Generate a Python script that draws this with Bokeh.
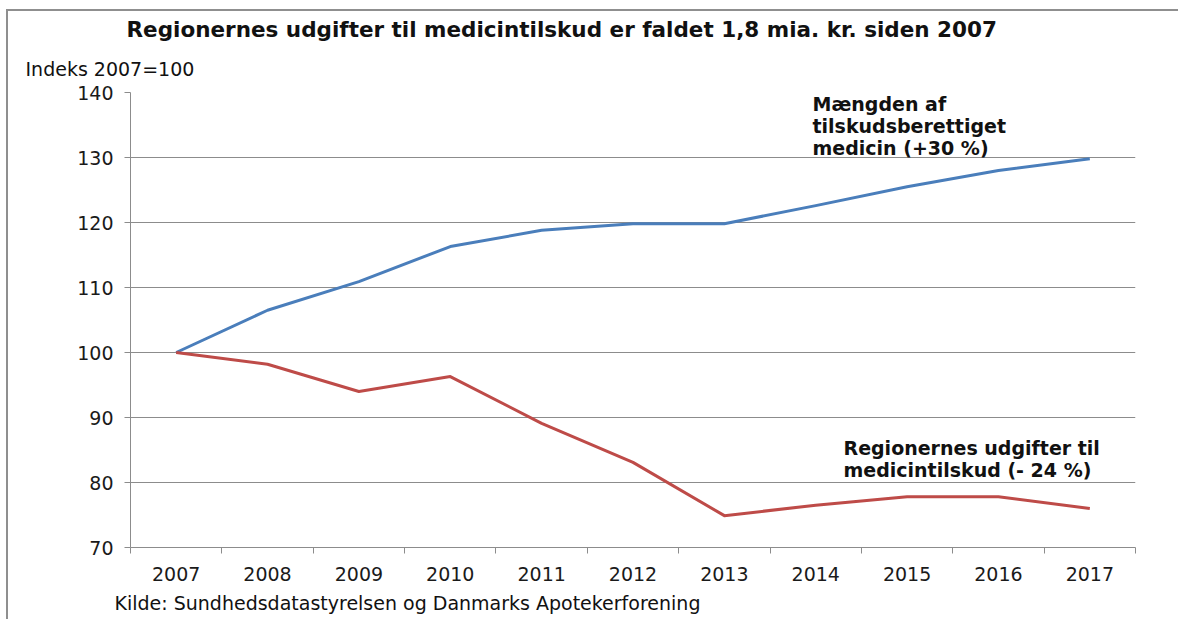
from bokeh.plotting import figure
from bokeh.models import Range1d, FixedTicker, Label, ColumnDataSource, Title
from bokeh.embed import file_html
from bokeh.resources import INLINE

# ---- data ----
years = ["2007", "2008", "2009", "2010", "2011", "2012", "2013", "2014", "2015", "2016", "2017"]
maengde = [100, 106.5, 110.9, 116.3, 118.8, 119.8, 119.8, 122.6, 125.5, 128.0, 129.8]
udgifter = [100, 98.2, 94.0, 96.3, 89.1, 83.1, 74.9, 76.5, 77.8, 77.8, 76.0]
y_ticks = [70, 80, 90, 100, 110, 120, 130, 140]

title_text = "Regionernes udgifter til medicintilskud er faldet 1,8 mia. kr. siden 2007"
y_label_text = "Indeks 2007=100"
source_text = "Kilde:  Sundhedsdatastyrelsen og Danmarks Apotekerforening"
blue_label = ["Mængden af", "tilskudsberettiget", "medicin (+30 %)"]
red_label = ["Regionernes udgifter til", "medicintilskud (- 24 %)"]

FONT = "DejaVu Sans"
GRAY = "#8c8c8c"
BLUE = "#4a7ebb"
RED = "#be4b48"

# category centres on a numeric axis (so tick marks can sit between categories)
xpos = [i + 0.5 for i in range(len(years))]
src = ColumnDataSource(dict(x=xpos, year=years, m=maengde, u=udgifter))

p = figure(
    width=1170, height=608,
    frame_width=1005, frame_height=455,
    x_range=Range1d(0, len(years)), y_range=Range1d(y_ticks[0], y_ticks[-1]),
    output_backend="svg", toolbar_location=None,
    min_border_left=122, min_border_top=81, min_border_right=43, min_border_bottom=72,
)
p.title = Title(text=title_text, align="left", offset=-4, standoff=3,
                text_font=FONT, text_font_size="21.5px", text_font_style="bold",
                text_color="#111111")
p.add_layout(Title(text=y_label_text, align="left", offset=-105, standoff=25,
                   text_font=FONT, text_font_size="19px", text_font_style="normal",
                   text_color="#111111"), "above")
p.add_layout(Title(text=source_text, align="left", offset=-16, standoff=12,
                   text_font=FONT, text_font_size="19px", text_font_style="normal",
                   text_color="#111111"), "below")
p.outline_line_color = None
p.background_fill_color = "white"
p.border_fill_color = "white"
p.styles = {"border-top": "2px solid #8f8f8f", "border-left": "2px solid #8f8f8f",
            "margin-left": "6px", "margin-top": "9px"}

p.line("x", "m", source=src, line_color=BLUE, line_width=3, line_join="round")
p.line("x", "u", source=src, line_color=RED, line_width=3, line_join="round")

# x axis
p.xaxis.ticker = FixedTicker(ticks=xpos, minor_ticks=list(range(len(years) + 1)))
p.xaxis.major_label_overrides = {x: y for x, y in zip(xpos, years)}
p.xaxis.major_tick_out = 0
p.xaxis.major_tick_in = 0
p.xaxis.minor_tick_out = 6
p.xaxis.minor_tick_in = 0
p.xaxis.minor_tick_line_color = GRAY
p.xaxis.axis_line_color = GRAY
p.xaxis.major_label_standoff = 13
p.xaxis.major_label_text_font = FONT
p.xaxis.major_label_text_font_size = "19px"
p.xaxis.major_label_text_color = "#1a1a1a"

# y axis
p.yaxis.ticker = FixedTicker(ticks=y_ticks, minor_ticks=[])
p.yaxis.major_tick_out = 6
p.yaxis.major_tick_in = 0
p.yaxis.major_tick_line_color = GRAY
p.yaxis.axis_line_color = GRAY
p.yaxis.major_label_standoff = 11
p.yaxis.major_label_text_font = FONT
p.yaxis.major_label_text_font_size = "19px"
p.yaxis.major_label_text_color = "#1a1a1a"

p.xgrid.grid_line_color = None
p.ygrid.grid_line_color = GRAY
p.ygrid.grid_line_width = 1
p.ygrid.ticker = FixedTicker(ticks=y_ticks)

def lab(x, y, text, size, bold=False):
    p.add_layout(Label(x=x, y=y, x_units="screen", y_units="screen", text=text,
                       text_font=FONT, text_font_size=size,
                       text_font_style="bold" if bold else "normal",
                       text_baseline="middle", text_align="left", text_color="#111111"))

for i, t in enumerate(blue_label):
    lab(682, 444 - 22 * i, t, "19px", True)
for i, t in enumerate(red_label):
    lab(713, 100 - 22 * i, t, "19px", True)

open("out.html", "w").write(file_html(p, INLINE))
